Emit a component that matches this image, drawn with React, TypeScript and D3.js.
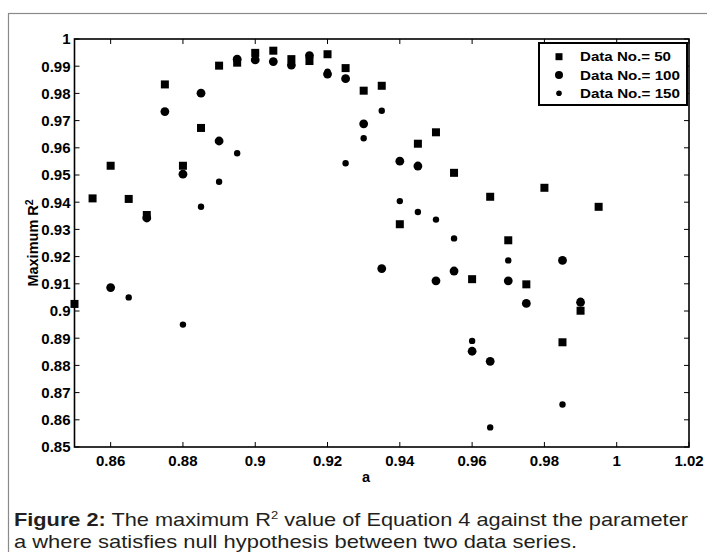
import React from "react";
import * as d3 from "d3";

const a50 = [0.85, 0.855, 0.86, 0.865, 0.87, 0.875, 0.88, 0.885, 0.89, 0.895, 0.9, 0.905, 0.91, 0.915, 0.92, 0.925, 0.93, 0.935, 0.94, 0.945, 0.95, 0.955, 0.96, 0.965, 0.97, 0.975, 0.98, 0.985, 0.99, 0.995];
const r50 = [0.9026, 0.9414, 0.9534, 0.9412, 0.9353, 0.9833, 0.9534, 0.9673, 0.9902, 0.9913, 0.9949, 0.9957, 0.9926, 0.9919, 0.9944, 0.9893, 0.981, 0.9828, 0.9319, 0.9615, 0.9657, 0.9508, 0.9117, 0.942, 0.926, 0.9098, 0.9453, 0.8885, 0.9001, 0.9383];

const a100 = [0.86, 0.87, 0.875, 0.88, 0.885, 0.89, 0.895, 0.9, 0.905, 0.91, 0.915, 0.92, 0.925, 0.93, 0.935, 0.94, 0.945, 0.95, 0.955, 0.96, 0.965, 0.97, 0.975, 0.985, 0.99];
const r100 = [0.9086, 0.9342, 0.9733, 0.9503, 0.9801, 0.9625, 0.9926, 0.9923, 0.9917, 0.9904, 0.9939, 0.9871, 0.9854, 0.9688, 0.9156, 0.9551, 0.9533, 0.9111, 0.9147, 0.8852, 0.8815, 0.9111, 0.9028, 0.9186, 0.9032];

const a150 = [0.865, 0.88, 0.885, 0.89, 0.895, 0.9, 0.91, 0.92, 0.925, 0.93, 0.935, 0.94, 0.945, 0.95, 0.955, 0.96, 0.965, 0.97, 0.985, 0.99];
const r150 = [0.905, 0.895, 0.9383, 0.9475, 0.958, 0.9935, 0.9915, 0.988, 0.9543, 0.9635, 0.9736, 0.9404, 0.9364, 0.9336, 0.9267, 0.889, 0.8572, 0.9186, 0.8656, 0.9038];

const xTicks = [0.86, 0.88, 0.9, 0.92, 0.94, 0.96, 0.98, 1, 1.02];
const yTicks = [0.85, 0.86, 0.87, 0.88, 0.89, 0.9, 0.91, 0.92, 0.93, 0.94, 0.95, 0.96, 0.97, 0.98, 0.99, 1];
const legendLabels = ["Data No.= 50", "Data No.= 100", "Data No.= 150"];

const L = 74.5, R = 689, T = 39, B = 447;
const FONT = "Liberation Sans, Arial, Helvetica, sans-serif";

export default function App() {
  const x = d3.scaleLinear().domain([0.85, 1.02]).range([L, R]);
  const y = d3.scaleLinear().domain([0.85, 1]).range([B, T]);
  const fmt = (v: number) => String(+v.toFixed(2));
  const tl = 5;
  const legendLens = [91, 100, 100];
  return (
    <svg width={707} height={552} style={{ position: "absolute", left: 0, top: 0, background: "#fff" }} fontFamily={FONT}>
      <rect x={8.5} y={13.5} width={720} height={600} fill="none" stroke="#8a8a8a" strokeWidth={1.2} />
      {xTicks.map((t) => (
        <g key={"x" + t}>
          <line x1={x(t)} x2={x(t)} y1={B} y2={B - tl} stroke="#000" strokeWidth={1} />
          <line x1={x(t)} x2={x(t)} y1={T} y2={T + tl} stroke="#000" strokeWidth={1} />
          <text x={x(t)} y={466} textAnchor="middle" fontSize={15} fontWeight="bold">{fmt(t)}</text>
        </g>
      ))}
      {yTicks.map((t) => (
        <g key={"y" + t}>
          <line x1={L} x2={L + tl} y1={y(t)} y2={y(t)} stroke="#000" strokeWidth={1} />
          <line x1={R} x2={R - tl} y1={y(t)} y2={y(t)} stroke="#000" strokeWidth={1} />
          <text x={70.5} y={y(t) + 5.3} textAnchor="end" fontSize={15} fontWeight="bold">{fmt(t)}</text>
        </g>
      ))}
      <rect x={L} y={T} width={R - L} height={B - T} fill="none" stroke="#000" strokeWidth={1.6} />
      {a50.map((a, i) => (
        <rect key={"s" + i} x={x(a) - 4} y={y(r50[i]) - 4} width={8} height={8} fill="#000" />
      ))}
      {a100.map((a, i) => (
        <circle key={"c" + i} cx={x(a)} cy={y(r100[i])} r={4.4} fill="#000" />
      ))}
      {a150.map((a, i) => (
        <circle key={"d" + i} cx={x(a)} cy={y(r150[i])} r={3.2} fill="#000" />
      ))}
      <rect x={539} y={43} width={148} height={62} fill="#fff" stroke="#000" strokeWidth={2} />
      {legendLabels.map((lab, i) => {
        const cy = 56.7 + i * 18.3;
        return (
          <g key={lab}>
            {i === 0 && <rect x={555.5} y={cy - 3.5} width={7} height={7} fill="#000" />}
            {i === 1 && <circle cx={559} cy={cy} r={4} fill="#000" />}
            {i === 2 && <circle cx={559} cy={cy} r={2.8} fill="#000" />}
            <text x={580} y={cy + 4.6} fontSize={13} fontWeight="bold" textLength={legendLens[i]} lengthAdjust="spacingAndGlyphs">{lab}</text>
          </g>
        );
      })}
      <text x={366} y={482} textAnchor="middle" fontSize={14.5} fontWeight="bold">a</text>
      <text transform="translate(37.5,243) rotate(-90)" textAnchor="middle" fontSize={14.5} fontWeight="bold">
        Maximum R<tspan dy={-5} fontSize={10.5}>2</tspan>
      </text>
      <text x={14} y={526} fontSize={18.5} fill="#231f20" textLength={674} lengthAdjust="spacingAndGlyphs">
        <tspan fontWeight="bold">Figure 2:</tspan> The maximum R<tspan dy={-7} fontSize={11}>2</tspan><tspan dy={7}> value of Equation 4 against the parameter</tspan>
      </text>
      <text x={14} y={548} fontSize={18.5} fill="#231f20" textLength={563} lengthAdjust="spacingAndGlyphs">a where satisfies null hypothesis between two data series.</text>
    </svg>
  );
}
